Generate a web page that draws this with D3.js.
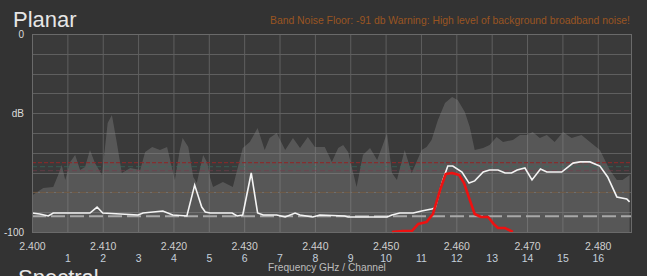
<!DOCTYPE html>
<html>
<head>
<meta charset="utf-8">
<script src="https://cdn.jsdelivr.net/npm/d3@7"></script>
<style>
  html, body { margin: 0; padding: 0; background: #333333; }
  svg { display: block; }
  text { font-family: "Liberation Sans", Arial, sans-serif; }
</style>
</head>
<body>
<svg id="chart"></svg>
<script>
// frequency in MHz, level in dB
var maxHold = [[2400.1,-81.3],[2401.6,-77.8],[2403.0,-77.3],[2403.7,-71.2],[2404.2,-66.2],[2404.7,-73.7],
  [2405.4,-64.6],[2406.1,-61.1],[2406.8,-68.7],[2407.5,-67.2],[2408.2,-58.6],[2408.9,-65.2],[2409.9,-71.2],
  [2410.7,-44.9],[2411.3,-40.9],[2412.0,-55.1],[2412.7,-70.2],[2413.9,-67.7],[2415.3,-68.7],[2416.0,-59.6],
  [2417.0,-57.1],[2418.1,-58.6],[2419.1,-57.1],[2419.8,-67.7],[2420.2,-73.7],[2420.9,-58.6],[2421.3,-52.5],
  [2422.1,-57.1],[2422.8,-72.2],[2423.3,-75.3],[2424.2,-61.1],[2424.8,-65.2],[2425.2,-72.7],
  [2425.6,-77.3],[2427.0,-74.7],[2428.4,-77.3],[2429.8,-57.6],[2430.8,-54.5],[2431.9,-47.5],[2432.9,-58.6],
  [2433.6,-52.5],[2434.6,-50.0],[2435.8,-58.6],[2436.9,-52.5],[2437.9,-57.6],[2439.0,-52.0],[2440.0,-57.1],
  [2441.4,-57.1],[2442.4,-64.6],[2443.3,-57.6],[2444.0,-56.1],[2444.7,-59.6],[2445.9,-77.3],[2446.8,-61.1],
  [2447.8,-57.6],[2448.8,-63.6],[2449.6,-56.1],[2450.2,-50.0],[2450.9,-70.2],[2451.6,-73.7],[2452.7,-58.6],
  [2453.7,-70.2],[2455.1,-58.6],[2455.8,-57.1],[2456.5,-53.5],[2457.4,-43.4],[2458.4,-34.8],[2459.4,-31.8],
  [2460.2,-33.3],[2461.2,-39.4],[2461.9,-47.0],[2462.6,-58.6],[2463.8,-57.6],[2464.7,-56.1],[2465.7,-52.0],
  [2466.6,-54.5],[2468.0,-53.5],[2469.0,-51.0],[2470.0,-51.0],[2470.8,-49.5],[2471.8,-52.5],[2472.8,-51.0],
  [2473.9,-54.5],[2475.1,-49.5],[2476.3,-52.5],[2477.7,-51.0],[2478.9,-54.5],[2480.3,-58.6],[2481.7,-68.7],
  [2482.7,-73.7],[2483.5,-73.7],[2484.5,-71.2]];

var current = [[2400.0,-90.4],[2401.1,-90.9],[2402.3,-91.9],[2403.0,-90.4],[2408.2,-90.4],[2409.2,-87.4],
  [2410.0,-90.4],[2415.0,-91.4],[2415.7,-90.4],[2418.5,-89.4],[2419.9,-91.4],[2421.9,-91.9],[2423.0,-76.3],
  [2424.0,-87.4],[2424.5,-89.9],[2425.2,-90.4],[2428.3,-90.4],[2429.0,-91.9],[2429.8,-91.4],[2431.0,-70.2],
  [2431.9,-90.4],[2432.7,-91.4],[2434.6,-91.4],[2435.8,-92.4],[2437.2,-90.4],[2437.9,-91.4],[2439.7,-92.4],
  [2440.7,-91.4],[2444.2,-91.9],[2444.7,-92.4],[2450.2,-92.4],[2450.9,-91.4],[2452.0,-90.4],[2453.9,-90.4],
  [2455.1,-89.4],[2456.5,-88.4],[2457.0,-87.9],[2458.1,-73.7],[2458.8,-66.7],[2459.5,-66.7],[2460.8,-69.7],
  [2461.8,-75.3],[2462.6,-74.2],[2463.8,-69.7],[2464.7,-68.7],[2465.9,-68.7],[2466.9,-70.2],[2467.8,-70.2],
  [2468.6,-68.7],[2469.7,-67.7],[2470.7,-73.7],[2471.9,-68.2],[2472.8,-69.7],[2474.9,-69.7],[2476.5,-65.2],
  [2477.5,-64.6],[2478.9,-64.6],[2480.3,-66.7],[2481.4,-72.2],[2482.7,-82.3],[2484.1,-83.3],[2484.5,-84.8]];

var network = [[2450.9,-100],[2452.4,-99.5],[2453.7,-99.5],[2454.6,-96.0],[2455.8,-94.9],[2456.7,-90.9],
  [2457.7,-78.8],[2458.5,-70.7],[2459.4,-70.2],[2460.4,-71.2],[2461.1,-75.3],[2461.9,-83.8],[2462.6,-90.9],
  [2463.5,-92.4],[2464.5,-92.4],[2465.3,-96.0],[2465.9,-98.0],[2466.9,-98.0],[2468.0,-100]];

var freqTicks = [2400, 2410, 2420, 2430, 2440, 2450, 2460, 2470, 2480];
var channels = d3.range(1, 17);
var noiseFloor = -92;
var markerLevels = [-65, -67, -69, -80];
var warningText = "Band Noise Floor: -91 db Warning: High level of background broadband noise!";

var W = 647, H = 276;
var M = {left: 32, right: 16, top: 34, bottom: 44};

var svg = d3.select("#chart").attr("width", W).attr("height", H);

svg.append("rect").attr("width", W).attr("height", H).attr("fill", "#333333");

var x = d3.scaleLinear().domain([2400, 2484.7]).range([M.left, W - M.right]);
var y = d3.scaleLinear().domain([-100, 0]).range([H - M.bottom, M.top]);

svg.append("rect")
  .attr("x", x(2400)).attr("y", y(0))
  .attr("width", x(2484.7) - x(2400)).attr("height", y(-100) - y(0))
  .attr("fill", "#3a3a3a");

// grid
var grid = svg.append("g");
grid.selectAll(".vg").data(d3.range(2400, 2484, 5)).enter().append("line")
  .attr("x1", d => x(d) + 0.5).attr("x2", d => x(d) + 0.5)
  .attr("y1", y(0)).attr("y2", y(-100))
  .attr("stroke", "#5f5f5f").attr("stroke-width", 1);
grid.selectAll(".hg").data(d3.range(-100, 1, 10)).enter().append("line")
  .attr("x1", x(2400)).attr("x2", x(2484.7))
  .attr("y1", d => Math.round(y(d)) + 0.5).attr("y2", d => Math.round(y(d)) + 0.5)
  .attr("stroke", "#5f5f5f").attr("stroke-width", 1);

// max hold area
var area = d3.area().x(d => x(d[0])).y0(y(-100)).y1(d => y(d[1]));
svg.append("path").datum(maxHold).attr("d", area)
  .attr("fill", "#8e8e8e").attr("fill-opacity", 0.35);

// marker lines (faint)
var markerStyle = {"-65": ["#8a2a2a", "4,2", 0.9], "-67": ["#2f6f5f", "5,3", 0.5],
  "-69": ["#7a3a4a", "5,3", 0.5], "-80": ["#6e4e2e", "6,2", 0.6]};
svg.selectAll(".mk").data(markerLevels).enter().append("line")
  .attr("x1", x(2400)).attr("x2", x(2484.7))
  .attr("y1", d => y(d)).attr("y2", d => y(d))
  .attr("stroke", d => markerStyle[d][0])
  .attr("stroke-dasharray", d => markerStyle[d][1])
  .attr("stroke-opacity", d => markerStyle[d][2])
  .attr("stroke-width", 1.2);

// noise floor
svg.append("line")
  .attr("x1", x(2400)).attr("x2", x(2484.7))
  .attr("y1", y(noiseFloor)).attr("y2", y(noiseFloor))
  .attr("stroke", "#a8a8a8").attr("stroke-width", 2).attr("stroke-dasharray", "14,5");

var line = d3.line().x(d => x(d[0])).y(d => y(d[1]));

svg.append("path").datum(current).attr("d", line)
  .attr("fill", "none").attr("stroke", "#f4f4f4").attr("stroke-width", 1.6);

svg.append("path").datum(network).attr("d", line)
  .attr("fill", "none").attr("stroke", "#ee1111").attr("stroke-width", 2.6)
  .attr("stroke-linejoin", "round");

// border
svg.append("rect")
  .attr("x", x(2400) + 0.5).attr("y", y(0) + 0.5)
  .attr("width", x(2484.7) - x(2400)).attr("height", y(-100) - y(0))
  .attr("fill", "none").attr("stroke", "#6a6a6a");

// axes
var xAxis = svg.append("g").attr("transform", "translate(0," + (y(-100) + 8) + ")")
  .call(d3.axisBottom(x).tickValues(freqTicks).tickSize(0).tickFormat(d => (d / 1000).toFixed(3)));
xAxis.select(".domain").remove();
xAxis.selectAll("text").attr("fill", "#cfcfcf").attr("font-size", 10.5)
  .style("font-family", "Liberation Sans, Arial, sans-serif");

var chAxis = svg.append("g").attr("transform", "translate(0," + (y(-100) + 20) + ")")
  .call(d3.axisBottom(x).tickValues(channels.map(c => 2400 + 5 * c)).tickSize(0)
    .tickFormat(d => String((d - 2400) / 5)));
chAxis.select(".domain").remove();
chAxis.selectAll("text").attr("fill", "#c4d0dc").attr("font-size", 10.5)
  .style("font-family", "Liberation Sans, Arial, sans-serif");

var yAxis = svg.append("g").attr("transform", "translate(" + (x(2400) - 5) + ",0)")
  .call(d3.axisLeft(y).tickValues([0, -40, -100]).tickSize(0)
    .tickFormat(d => d === -40 ? "dB" : String(d)));
yAxis.select(".domain").remove();
yAxis.selectAll("text").attr("fill", "#dcdcdc").attr("font-size", 10)
  .style("font-family", "Liberation Sans, Arial, sans-serif");

svg.append("text").attr("x", 327).attr("y", 271).attr("text-anchor", "middle")
  .attr("fill", "#bdbdbd").attr("font-size", 10.2).text("Frequency GHz / Channel");

svg.append("text").attr("x", 13).attr("y", 27)
  .attr("fill", "#e6e6e6").attr("font-size", 22).text("Planar");

svg.append("text").attr("x", 18).attr("y", 285)
  .attr("fill", "#e6e6e6").attr("font-size", 22).text("Spectral");

svg.append("text").attr("x", 630).attr("y", 24).attr("text-anchor", "end")
  .attr("fill", "#9a5522").attr("font-size", 10.4).text(warningText);
</script>
</body>
</html>
